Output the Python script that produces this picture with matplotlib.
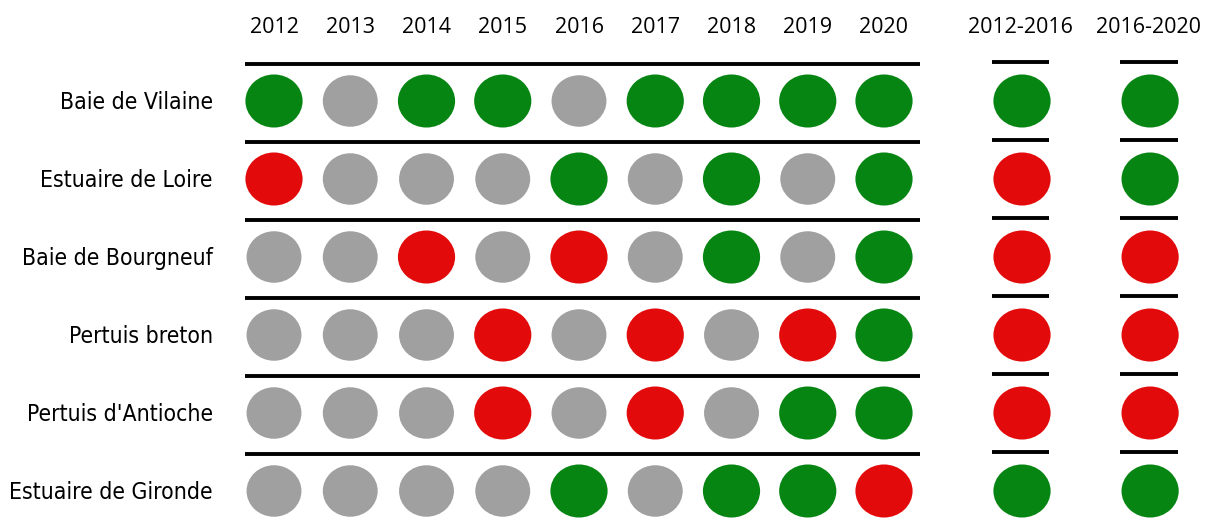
import matplotlib.pyplot as plt
from matplotlib.patches import Ellipse

sites = ["Baie de Vilaine", "Estuaire de Loire", "Baie de Bourgneuf",
         "Pertuis breton", "Pertuis d'Antioche", "Estuaire de Gironde"]
years = ["2012", "2013", "2014", "2015", "2016", "2017", "2018", "2019", "2020"]
periods = ["2012-2016", "2016-2020"]

# G = good, R = bad, N = no significant trend
yearly = [
    "GNGGNGGGG",
    "RNNNGNGNG",
    "NNRNRNGNG",
    "NNNRNRNRG",
    "NNNRNRNGG",
    "NNNNGNGGR",
]
trend = [
    "GG",
    "RG",
    "RR",
    "RR",
    "RR",
    "GG",
]

colors = {"G": "#078513", "R": "#e20a0a", "N": "#a0a0a0"}

fig = plt.figure(figsize=(12.05, 5.28), dpi=100)
ax = fig.add_axes([0, 0, 1, 1])
ux, uy = 76.25, 78.0
x0 = -274 / ux
y0 = -101 / uy
ax.set_xlim(x0, x0 + 1205 / ux)
ax.set_ylim(y0 + 528 / uy, y0)
ax.axis("off")

period_x = [9.81, 11.49]

for i, site in enumerate(sites):
    ax.text(-0.8, i + 0.02, site, ha="right", va="center", fontsize=16.5,
            family="DejaVu Sans", stretch="condensed")
    ax.plot([-0.38, 8.47], [i - 0.48, i - 0.48], color="black", lw=2.8,
            solid_capstyle="butt")
    for j, code in enumerate(yearly[i]):
        w, h = (0.75, 0.68) if code != "N" else (0.72, 0.66)
        ax.add_patch(Ellipse((j, i), w, h, color=colors[code], lw=0))
    for k, code in enumerate(trend[i]):
        px = period_x[k]
        ax.plot([px - 0.4, px + 0.36], [i - 0.5, i - 0.5], color="black",
                lw=2.8, solid_capstyle="butt")
        ax.add_patch(Ellipse((px, i), 0.75, 0.68, color=colors[code], lw=0))

for j, yr in enumerate(years):
    ax.text(j, -0.94, yr, ha="center", va="center", fontsize=15.5,
            family="Open Sans")
for k, p in enumerate(periods):
    ax.text(period_x[k] - 0.02, -0.94, p, ha="center", va="center",
            fontsize=15.5, family="Open Sans")

fig.savefig("out.png", dpi=100)
